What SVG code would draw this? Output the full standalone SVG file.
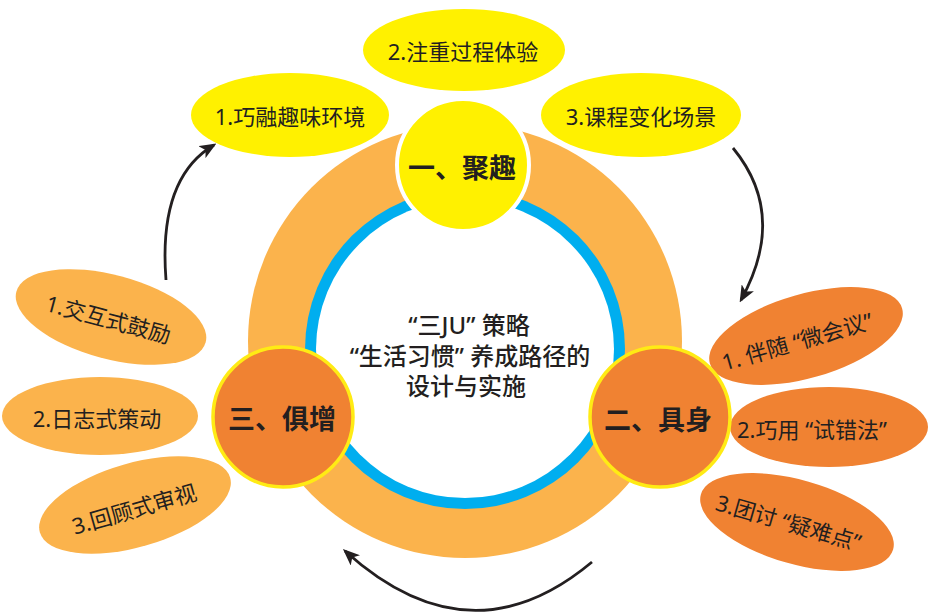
<svg xmlns="http://www.w3.org/2000/svg" width="933" height="612" viewBox="0 0 933 612">
<style>
text{font-family:"Noto Sans","Noto Sans CJK SC",sans-serif;fill:#231f20;text-anchor:middle;dominant-baseline:central}
.el{font-size:22px}
.big{font-size:27px;font-weight:bold}
.ctr{font-size:24px;font-weight:500}
.yel{fill:#fff100}
.lor{fill:#fbb34c}
.dor{fill:#f08232}
.conn{fill:none;stroke:#231f20;stroke-width:2.8;marker-end:url(#ah)}
</style>
<defs>
<marker id="ah" viewBox="0 0 12 10" refX="10" refY="5" markerWidth="6" markerHeight="5" orient="auto" markerUnits="strokeWidth">
<path d="M0,0 L12,5 L0,10 L3,5 z" fill="#231f20"/>
</marker>
</defs>
<g id="ring">
<circle cx="465" cy="341" r="217" fill="#fbb34c"/>
<circle cx="465" cy="349" r="160" fill="#00aeef"/>
<circle cx="465" cy="349" r="149" fill="#ffffff"/>
</g>
<g id="center">
<text class="ctr" x="469" y="324">“三JU” 策略</text>
<text class="ctr" x="470" y="355">“生活习惯” 养成路径的</text>
<text class="ctr" x="466" y="385">设计与实施</text>
</g>
<g id="connectors">
<path class="conn" d="M166,280 Q158,178 214,145"/>
<path class="conn" d="M733,148 Q788,215 741,300"/>
<path class="conn" d="M592,562 Q470,664 345,551"/>
</g>
<g id="y1"><ellipse class="yel" cx="290" cy="115" rx="99" ry="42"/><text class="el" x="290" y="116">1.巧融趣味环境</text></g>
<g id="y2"><ellipse class="yel" cx="464" cy="50" rx="101" ry="41"/><text class="el" x="463" y="51">2.注重过程体验</text></g>
<g id="y3"><ellipse class="yel" cx="641" cy="115" rx="100" ry="42"/><text class="el" x="641" y="116">3.课程变化场景</text></g>
<g id="l1" transform="translate(111,317) rotate(15)"><ellipse class="lor" cx="0" cy="0" rx="98" ry="42"/><text class="el" x="-2" y="2">1.交互式鼓励</text></g>
<g id="l2"><ellipse class="lor" cx="100" cy="416" rx="98" ry="39"/><text class="el" x="97" y="418">2.日志式策动</text></g>
<g id="l3" transform="translate(135,505) rotate(-16)"><ellipse class="lor" cx="0" cy="0" rx="99" ry="42"/><text class="el" x="-2" y="3">3.回顾式审视</text></g>
<g id="r1" transform="translate(806,336) rotate(-16)"><ellipse class="dor" cx="0" cy="0" rx="100" ry="42"/><text class="el" x="-10" y="2">1. 伴随 “微会议”</text></g>
<g id="r2"><ellipse class="dor" cx="829" cy="427" rx="99" ry="40"/><text class="el" x="812" y="429">2.巧用 “试错法”</text></g>
<g id="r3" transform="translate(797,522) rotate(16)"><ellipse class="dor" cx="0" cy="0" rx="100" ry="42"/><text class="el" x="-8" y="2">3.团讨 “疑难点”</text></g>
<g id="n1"><circle cx="463" cy="165" r="66" fill="#fff100" stroke="#ffffff" stroke-width="4"/><text class="big" x="462" y="167">一、聚趣</text></g>
<g id="n2"><circle cx="660" cy="417" r="70" fill="#f08232" stroke="#ffeb14" stroke-width="3.5"/><text class="big" x="658" y="419">二、具身</text></g>
<g id="n3"><circle cx="283" cy="417" r="70" fill="#f08232" stroke="#ffeb14" stroke-width="3.5"/><text class="big" x="282" y="418">三、俱增</text></g>
</svg>
